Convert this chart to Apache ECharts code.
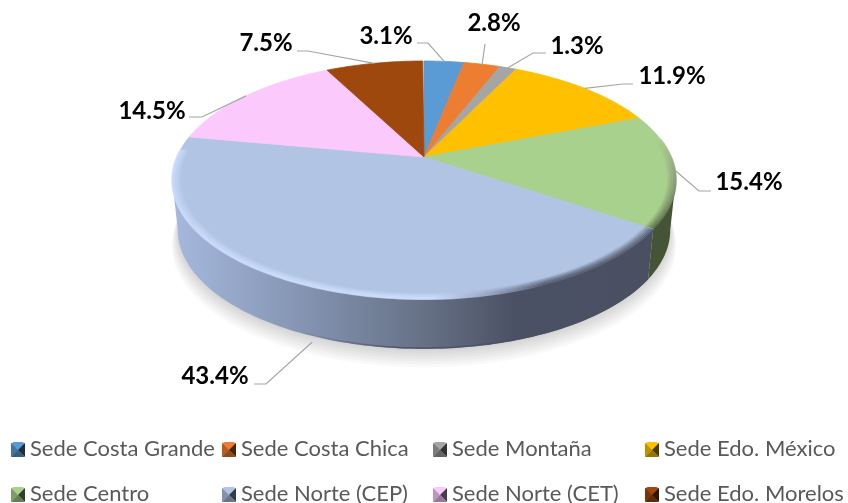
<!DOCTYPE html>
<html>
<head>
<meta charset="utf-8">
<style>html,body{margin:0;padding:0;background:#fff}#main{width:848px;height:503px}</style>
<script src="https://cdn.jsdelivr.net/npm/echarts@6/dist/echarts.min.js"></script>
</head>
<body>
<div id="main"></div>
<script>
// datos
var categories = ['Sede Costa Grande','Sede Costa Chica','Sede Montaña','Sede Edo. México','Sede Centro','Sede Norte (CEP)','Sede Norte (CET)','Sede Edo. Morelos'];
var values = [3.1,2.8,1.3,11.9,15.4,43.4,14.5,7.5];
var colors = ['#5b9bd5','#ed7d31','#a5a5a5','#ffc000','#a9d18e','#b1c4e3','#fbc9fb','#9e480e'];

// etiquetas: centro del texto y codo de la linea guia
var labelX = [386,494,577,672,749,215,152,266];
var labelY = [36,23,46,76,182,376,111,43];
var elbowX = [[417,428],[485,485],[546,533],[633,623],[711,699],[254,266],[189,202],[297,308]];
var elbowY = [[43,43],[44,44],[53,53],[84,84],[191,191],[384,384],[117,117],[51,51]];

// perspectiva del disco (homografia de un circulo unidad)
var cx = 424, ax = 247, ay = 84.2, by = 157, pc = -0.1933, depth = 50, baseScale = 0.978;
var silhouette = Math.acos(pc); // angulo donde el borde es mas ancho

function proj(theta, r, dy) {
    var X = r * Math.sin(theta), Y = -r * Math.cos(theta), d = 1 + pc * Y;
    var x = ax * X / d;
    return [cx + (dy ? x * baseScale : x), (ay * Y + by) / d + (dy || 0)];
}
function arc(t0, t1, r, dy) {
    var pts = [], n = Math.max(4, Math.ceil((t1 - t0) / 0.02));
    for (var i = 0; i <= n; i++) {
        pts.push(proj(t0 + (t1 - t0) * i / n, r, dy));
    }
    return pts;
}
function hgrad(stops) {
    return new echarts.graphic.LinearGradient(172, 0, 676, 0, stops, true);
}
function shade(hex, f) {
    var c = echarts.color.parse(hex);
    return 'rgb(' + Math.round(c[0] * f) + ',' + Math.round(c[1] * f) + ',' + Math.round(c[2] * f) + ')';
}

var wallFill = {
    'Sede Norte (CEP)': hgrad([{offset:0,color:'#a6b9de'},{offset:.25,color:'#8595b3'},{offset:.5,color:'#667186'},{offset:.68,color:'#4b5164'},{offset:1,color:'#4a5062'}]),
    'Sede Centro': '#445434'
};
var rimFill = {
    'Sede Norte (CEP)': hgrad([{offset:0,color:'#cfe0ff'},{offset:.52,color:'#cfe0ff'},{offset:.62,color:'#98a6c2'},{offset:.74,color:'#4a5063'},{offset:1,color:'#4a5063'}]),
    'Sede Centro': new echarts.graphic.LinearGradient(0, 140, 0, 230, [{offset:0,color:'#a9d18e'},{offset:.3,color:'#8d9c80'},{offset:1,color:'#445434'}], true)
};
var wallLine = hgrad([{offset:0,color:'rgba(74,80,99,0)'},{offset:.25,color:'rgba(74,80,99,0)'},{offset:.45,color:'rgba(74,80,99,.8)'},{offset:1,color:'rgba(74,80,99,.8)'}]);

var TWO_PI = Math.PI * 2, acc = 0, slices = [];
for (var i = 0; i < values.length; i++) {
    slices.push([acc, acc + values[i]]);
    acc += values[i];
}

function renderSlice(params, api) {
    var name = params.seriesName, idx = categories.indexOf(name);
    var t0 = api.value(0) / 100 * TWO_PI, t1 = api.value(1) / 100 * TWO_PI, mid = (t0 + t1) / 2;
    var kids = [], front = Math.cos(mid) < 0;
    // pared lateral, solo en la mitad delantera
    if (front) {
        var w0 = Math.max(t0, silhouette), w1 = Math.min(t1, TWO_PI - silhouette);
        var wall = arc(w0, w1, 1, 0).concat(arc(w0, w1, 1, depth).reverse());
        kids.push({type:'polygon', shape:{points:wall}, style:{fill:wallFill[name]}, silent:true});
        if (idx == 5) {
            kids.push({type:'polyline', shape:{points:arc(w0, w1, 1, depth - 1)}, style:{fill:null, stroke:wallLine, lineWidth:1.5}, silent:true});
        }
    }
    var top = [proj(0, 0)].concat(arc(t0, t1, 1, 0));
    kids.push({type:'polygon', shape:{points:top}, style:{fill:colors[idx], stroke:colors[idx], lineWidth:.8}});
    // bisel del borde, se apaga hacia atras
    if (front) {
        var b0 = Math.max(t0, Math.PI * 0.45), b1 = Math.min(t1, Math.PI * 1.52);
        for (var k = 0; k < 6; k++) {
            kids.push({type:'polyline', shape:{points:arc(b0, b1, 1 - k * 0.006, 0)},
                style:{fill:null, stroke:rimFill[name], lineWidth:2, opacity:.75 * (1 - k / 6)}, silent:true});
        }
    }
    // linea guia y etiqueta
    var rim = proj(mid, 1, Math.cos(mid) < -0.5 ? depth + 6 : 0);
    kids.push({type:'polyline', shape:{points:[[elbowX[idx][0],elbowY[idx][0]],[elbowX[idx][1],elbowY[idx][1]],rim]},
        style:{fill:null, stroke:'#a6a6a6', lineWidth:1.2}, silent:true});
    kids.push({type:'text', style:{x:labelX[idx], y:labelY[idx], text:values[idx].toFixed(1) + '%', align:'center', verticalAlign:'middle',
        font:'bold 24px Lato', fill:'#000'}, silent:true});
    return {type:'group', children:kids};
}

// sombra suave bajo el disco, capas translucidas
var series = [{
    type:'custom', coordinateSystem:'none', silent:true, data:[[0]],
    renderItem:function () {
        var layers = [];
        for (var s = 0; s < 7; s++) {
            layers.push({type:'polygon', shape:{points:arc(0, TWO_PI, 1 + (6 - s) * 0.004, depth + 2 + (6 - s) * 2)},
                style:{fill:'rgba(0,0,0,.022)'}});
        }
        return {type:'group', children:layers};
    }
}];
categories.forEach(function (name, i) {
    series.push({type:'custom', name:name, coordinateSystem:'none', itemStyle:{color:colors[i]},
        data:[slices[i]], renderItem:renderSlice});
});

// leyenda: cuatro columnas de dos filas, una leyenda por entrada
var colX = [11,222,433,645], legendTop = 443, rowGap = 45, iconSize = 14;
var legends = [], bevels = [];
categories.forEach(function (name, i) {
    var x0 = colX[i % 4], y0 = legendTop + Math.floor(i / 4) * rowGap, col = colors[i];
    legends.push({left:x0, top:y0 - 5, padding:0, itemWidth:iconSize, itemHeight:iconSize, itemGap:0, data:[name], selectedMode:false,
        textStyle:{fontFamily:'Lato', fontSize:22, color:'#595959', lineHeight:22, height:22}, itemStyle:{borderWidth:0}});
    var x1 = x0 + iconSize, y1 = y0 + iconSize, mx = x0 + iconSize / 2, my = y0 + iconSize / 2;
    var faces = [
        [[[x0,y0],[x1,y0],[mx,my]], col],
        [[[x0,y0],[x0,y1],[mx,my]], shade(col, .75)],
        [[[x1,y0],[x1,y1],[mx,my]], shade(col, .3)],
        [[[x0,y1],[x1,y1],[mx,my]], shade(col, .6)]
    ];
    faces.forEach(function (f) {
        bevels.push({type:'polygon', z:100, silent:true, shape:{points:f[0]}, style:{fill:f[1]}});
    });
});

var myChart = echarts.init(document.getElementById('main'), null, {renderer:'canvas'});
myChart.setOption({
    animation:false,
    backgroundColor:'#fff',
    legend:legends,
    graphic:bevels,
    series:series
});
</script>
</body>
</html>
